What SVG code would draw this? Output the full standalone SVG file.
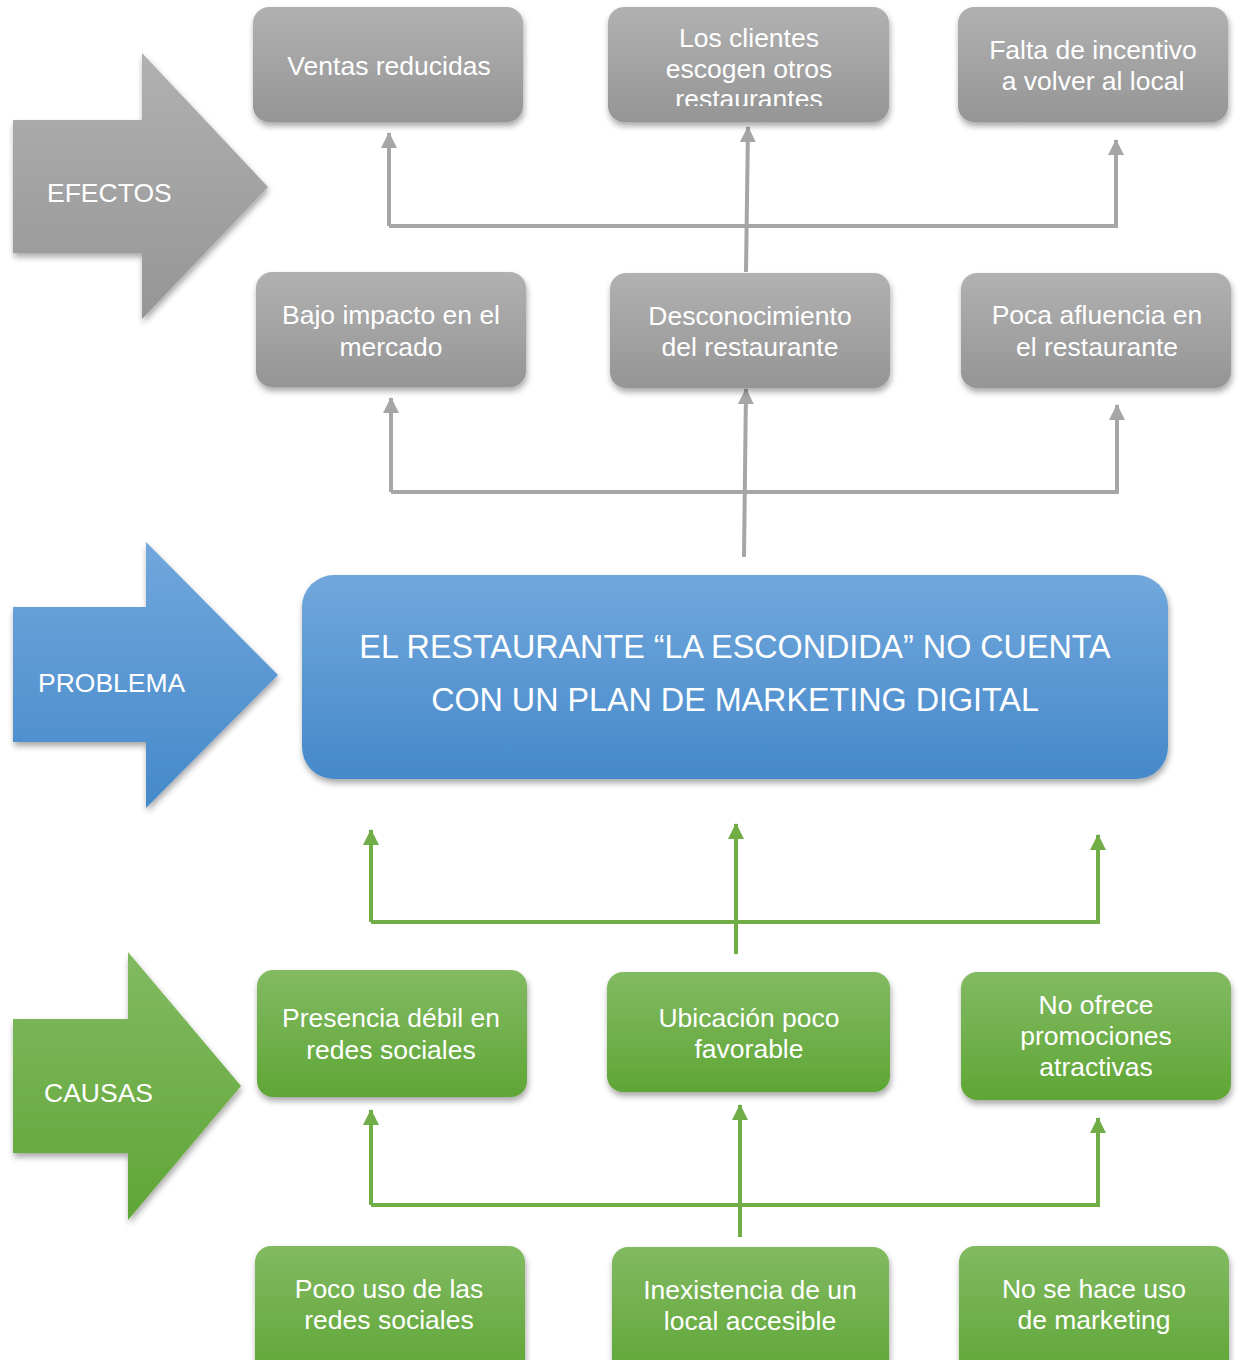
<svg xmlns="http://www.w3.org/2000/svg" width="1238" height="1360" viewBox="0 0 1238 1360">
<defs>
<linearGradient id="gGray" x1="0" y1="0" x2="0" y2="1"><stop offset="0" stop-color="#b1b1b1"/><stop offset="1" stop-color="#959595"/></linearGradient>
<linearGradient id="gBlue" x1="0" y1="0" x2="0" y2="1"><stop offset="0" stop-color="#71a7dc"/><stop offset="1" stop-color="#4589ca"/></linearGradient>
<linearGradient id="gGreen" x1="0" y1="0" x2="0" y2="1"><stop offset="0" stop-color="#82ba62"/><stop offset="1" stop-color="#5fa636"/></linearGradient>
<filter id="sh" x="-10%" y="-10%" width="120%" height="130%"><feDropShadow dx="1" dy="4" stdDeviation="3" flood-color="#000" flood-opacity="0.35"/></filter>
<marker id="aG" markerUnits="userSpaceOnUse" markerWidth="17" markerHeight="17" refX="15" refY="8" orient="auto" viewBox="0 0 17 16"><path d="M0,0 L16,8 L0,16 Z" fill="#a6a6a6"/></marker>
<marker id="aGr" markerUnits="userSpaceOnUse" markerWidth="17" markerHeight="17" refX="15" refY="8" orient="auto" viewBox="0 0 17 16"><path d="M0,0 L16,8 L0,16 Z" fill="#70ad47"/></marker>
<clipPath id="clip1"><rect x="600" y="0" width="300" height="106"/></clipPath>
</defs>
<style>
text{font-family:"Liberation Sans",Arial,sans-serif;fill:#fff;text-anchor:middle;font-size:26.5px}
.gray{fill:url(#gGray);filter:url(#sh)}
.blue{fill:url(#gBlue);filter:url(#sh)}
.green{fill:url(#gGreen);filter:url(#sh)}
.cg{fill:none;stroke:#a6a6a6;stroke-width:4}
.cgr{fill:none;stroke:#70ad47;stroke-width:4}
.big{font-size:32.3px}
.lbl{text-anchor:start}
</style>
<rect width="1238" height="1360" fill="#fff"/>

<g id="efectos">
<path class="gray" d="M13,120 L142,120 L142,53 L268,187 L142,319 L142,253 L13,253 Z"/>
<text class="lbl" x="47" y="202">EFECTOS</text>
</g>
<g id="problema">
<path class="blue" d="M13,607 L146,607 L146,542 L278,675 L146,808 L146,742 L13,742 Z"/>
<text class="lbl" x="38" y="692">PROBLEMA</text>
</g>
<g id="causas">
<path class="green" d="M13,1019 L128,1019 L128,952 L241,1086 L128,1220 L128,1153 L13,1153 Z"/>
<text class="lbl" x="44" y="1102">CAUSAS</text>
</g>

<g id="connectors">
<path class="cg" d="M389,226 L389,133" marker-end="url(#aG)"/>
<path class="cg" d="M389,226 L1116,226 L1116,140" marker-end="url(#aG)"/>
<path class="cg" d="M746,272 L748,127" marker-end="url(#aG)"/>
<path class="cg" d="M391,492 L391,398" marker-end="url(#aG)"/>
<path class="cg" d="M391,492 L1117,492 L1117,405" marker-end="url(#aG)"/>
<path class="cg" d="M744,557 L746,389" marker-end="url(#aG)"/>
<path class="cgr" d="M371,922 L371,830" marker-end="url(#aGr)"/>
<path class="cgr" d="M371,922 L1098,922 L1098,835" marker-end="url(#aGr)"/>
<path class="cgr" d="M736,954 L736,824" marker-end="url(#aGr)"/>
<path class="cgr" d="M371,1205 L371,1110" marker-end="url(#aGr)"/>
<path class="cgr" d="M371,1205 L1098,1205 L1098,1118" marker-end="url(#aGr)"/>
<path class="cgr" d="M740,1237 L740,1105" marker-end="url(#aGr)"/>
</g>

<g id="e1"><rect class="gray" x="253" y="7" width="270" height="115" rx="16"/><text x="389" y="75">Ventas reducidas</text></g>
<g id="e2"><rect class="gray" x="608" y="7" width="281" height="115" rx="16"/>
<g clip-path="url(#clip1)"><text x="749" y="47">Los clientes</text><text x="749" y="78">escogen otros</text><text x="749" y="108">restaurantes</text></g></g>
<g id="e3"><rect class="gray" x="958" y="7" width="270" height="115" rx="16"/><text x="1093" y="59">Falta de incentivo</text><text x="1093" y="90">a volver al local</text></g>

<g id="e4"><rect class="gray" x="256" y="272" width="270" height="115" rx="16"/><text x="391" y="324">Bajo impacto en el</text><text x="391" y="356">mercado</text></g>
<g id="e5"><rect class="gray" x="610" y="273" width="280" height="115" rx="16"/><text x="750" y="325">Desconocimiento</text><text x="750" y="356">del restaurante</text></g>
<g id="e6"><rect class="gray" x="961" y="273" width="270" height="115" rx="16"/><text x="1097" y="324">Poca afluencia en</text><text x="1097" y="356">el restaurante</text></g>

<g id="main"><rect class="blue" x="302" y="575" width="866" height="204" rx="32"/>
<text class="big" x="735" y="658">EL RESTAURANTE “LA ESCONDIDA” NO CUENTA</text>
<text class="big" x="735" y="711">CON UN PLAN DE MARKETING DIGITAL</text></g>

<g id="c1"><rect class="green" x="257" y="970" width="270" height="127" rx="16"/><text x="391" y="1027">Presencia débil en</text><text x="391" y="1059">redes sociales</text></g>
<g id="c2"><rect class="green" x="607" y="972" width="283" height="120" rx="16"/><text x="749" y="1027">Ubicación poco</text><text x="749" y="1058">favorable</text></g>
<g id="c3"><rect class="green" x="961" y="972" width="270" height="128" rx="16"/><text x="1096" y="1014">No ofrece</text><text x="1096" y="1045">promociones</text><text x="1096" y="1076">atractivas</text></g>

<g id="c4"><rect class="green" x="255" y="1246" width="270" height="130" rx="16"/><text x="389" y="1298">Poco uso de las</text><text x="389" y="1329">redes sociales</text></g>
<g id="c5"><rect class="green" x="612" y="1247" width="277" height="130" rx="16"/><text x="750" y="1299">Inexistencia de un</text><text x="750" y="1330">local accesible</text></g>
<g id="c6"><rect class="green" x="959" y="1246" width="270" height="130" rx="16"/><text x="1094" y="1298">No se hace uso</text><text x="1094" y="1329">de marketing</text></g>
</svg>
